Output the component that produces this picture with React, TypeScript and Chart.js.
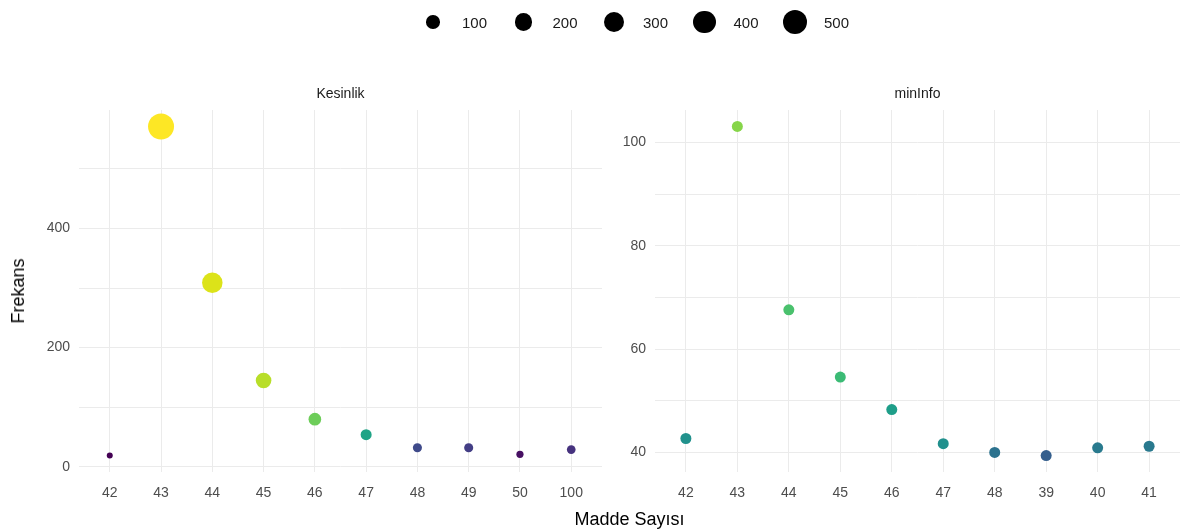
import React, { useEffect, useRef } from 'react';
import { Chart, registerables } from 'chart.js';

Chart.register(...registerables);

// ---------- data ----------
const kesinlikLabels = ['42', '43', '44', '45', '46', '47', '48', '49', '50', '100'];
const kesinlikValues = [19, 571, 309, 145, 80, 54, 32, 32, 21, 29];

const minInfoLabels = ['42', '43', '44', '45', '46', '47', '48', '39', '40', '41'];
const minInfoValues = [42.7, 103.1, 67.6, 54.6, 48.3, 41.7, 40.0, 39.4, 40.9, 41.2];

const kesinlikMajorTicks = [0, 200, 400];
const kesinlikMinorTicks = [100, 300, 500];
const minInfoMajorTicks = [40, 60, 80, 100];
const minInfoMinorTicks = [50, 70, 90];

const legendValues = [100, 200, 300, 400, 500];

// ---------- styles ----------
const kesinlikColors = ['#440154', '#FDE725', '#DCE319', '#B8DE29', '#6DCD59', '#20A486', '#3F4A8A', '#433E85', '#471063', '#46327E'];
const minInfoColors = ['#21918C', '#86D549', '#4AC16D', '#3BBB75', '#1E9E89', '#21908D', '#2C728E', '#355F8D', '#297A8E', '#29798E'];

const FONT = "'Liberation Sans', Arial, Helvetica, sans-serif";
const GRID = '#EBEBEB';
const TICK_COLOR = '#4D4D4D';

// size scale (area-like): radius grows with sqrt of the rescaled value
const SIZE_MIN = Math.min(...kesinlikValues);
const SIZE_MAX = Math.max(...kesinlikValues);
const sizeOf = (v: number) => 3 + 10 * Math.sqrt(Math.max(0, (v - SIZE_MIN) / (SIZE_MAX - SIZE_MIN)));

function expandRange(vals: number[]): [number, number] {
  const mn = Math.min(...vals);
  const mx = Math.max(...vals);
  const d = (mx - mn) * 0.05;
  return [mn - d, mx + d];
}

function makeConfig(
  labels: string[],
  values: number[],
  colors: string[],
  radii: number[],
  majors: number[],
  minors: number[],
  yWidth: number,
  padRight: number
): any {
  const [ymin, ymax] = expandRange(values);
  const allTicks = [...majors, ...minors].sort((a, b) => a - b);
  return {
    type: 'scatter',
    data: {
      datasets: [
        {
          data: values.map((v, i) => ({ x: i, y: v })),
          backgroundColor: colors,
          borderWidth: 0,
          pointRadius: radii,
          pointHoverRadius: radii,
          clip: false,
        },
      ],
    },
    options: {
      animation: false,
      responsive: false,
      devicePixelRatio: 1,
      events: [],
      layout: { autoPadding: false, padding: { top: 110, right: padRight, left: 0, bottom: 0 } },
      plugins: { legend: { display: false }, tooltip: { enabled: false } },
      scales: {
        x: {
          type: 'linear',
          min: -0.6,
          max: labels.length - 0.4,
          afterBuildTicks: (scale: any) => {
            scale.ticks = labels.map((_, i) => ({ value: i }));
          },
          afterFit: (scale: any) => {
            scale.height = 59;
            scale.paddingLeft = 0;
            scale.paddingRight = 0;
          },
          grid: { color: GRID, lineWidth: 1, drawTicks: false },
          border: { display: false },
          ticks: {
            autoSkip: false,
            maxRotation: 0,
            padding: 13,
            color: TICK_COLOR,
            font: { family: FONT, size: 14 },
            callback: (v: any) => labels[Math.round(Number(v))] ?? '',
          },
        },
        y: {
          type: 'linear',
          min: ymin,
          max: ymax,
          afterBuildTicks: (scale: any) => {
            scale.ticks = allTicks.map((v) => ({ value: v }));
          },
          afterFit: (scale: any) => {
            scale.width = yWidth;
            scale.paddingTop = 0;
            scale.paddingBottom = 0;
          },
          grid: { color: GRID, lineWidth: 1, drawTicks: false },
          border: { display: false },
          ticks: {
            autoSkip: false,
            padding: 9,
            color: TICK_COLOR,
            font: { family: FONT, size: 14 },
            callback: (v: any) => (majors.includes(Number(v)) ? String(v) : ''),
          },
        },
      },
    },
  };
}

export default function App() {
  const leftRef = useRef<HTMLCanvasElement>(null);
  const rightRef = useRef<HTMLCanvasElement>(null);

  useEffect(() => {
    const left = new Chart(
      leftRef.current as HTMLCanvasElement,
      makeConfig(
        kesinlikLabels,
        kesinlikValues,
        kesinlikColors,
        kesinlikValues.map(sizeOf),
        kesinlikMajorTicks,
        kesinlikMinorTicks,
        79,
        3
      )
    );
    const right = new Chart(
      rightRef.current as HTMLCanvasElement,
      makeConfig(
        minInfoLabels,
        minInfoValues,
        minInfoColors,
        minInfoValues.map(() => 5.5),
        minInfoMajorTicks,
        minInfoMinorTicks,
        50,
        1
      )
    );
    return () => {
      left.destroy();
      right.destroy();
    };
  }, []);

  const text: React.CSSProperties = { position: 'absolute', fontFamily: FONT, whiteSpace: 'nowrap', lineHeight: 1 };

  return (
    <div style={{ position: 'absolute', left: 0, top: 0, width: 1181, height: 531, background: '#fff', overflow: 'hidden' }}>
      <canvas ref={leftRef} width={605} height={531} style={{ position: 'absolute', left: 0, top: 0 }} />
      <canvas ref={rightRef} width={576} height={531} style={{ position: 'absolute', left: 605, top: 0 }} />

      {/* size legend */}
      {legendValues.map((v, i) => {
        const cx = 433 + i * 90.5;
        const r = sizeOf(v);
        return (
          <React.Fragment key={v}>
            <div
              style={{
                position: 'absolute',
                left: cx - r,
                top: 22 - r,
                width: 2 * r,
                height: 2 * r,
                borderRadius: '50%',
                background: '#000',
              }}
            />
            <div style={{ ...text, left: cx + 29, top: 15, fontSize: 15, color: '#1A1A1A' }}>{v}</div>
          </React.Fragment>
        );
      })}

      {/* strip titles */}
      <div style={{ ...text, left: 340.5, top: 86, fontSize: 14, color: '#1A1A1A', transform: 'translateX(-50%)' }}>Kesinlik</div>
      <div style={{ ...text, left: 917.5, top: 86, fontSize: 14, color: '#1A1A1A', transform: 'translateX(-50%)' }}>minInfo</div>

      {/* axis titles */}
      <div style={{ ...text, left: 629.5, top: 510, fontSize: 18, color: '#000', transform: 'translateX(-50%)' }}>Madde Sayısı</div>
      <div
        style={{
          ...text,
          left: 18,
          top: 291,
          fontSize: 18,
          color: '#000',
          transform: 'translate(-50%, -50%) rotate(-90deg)',
        }}
      >
        Frekans
      </div>
    </div>
  );
}
